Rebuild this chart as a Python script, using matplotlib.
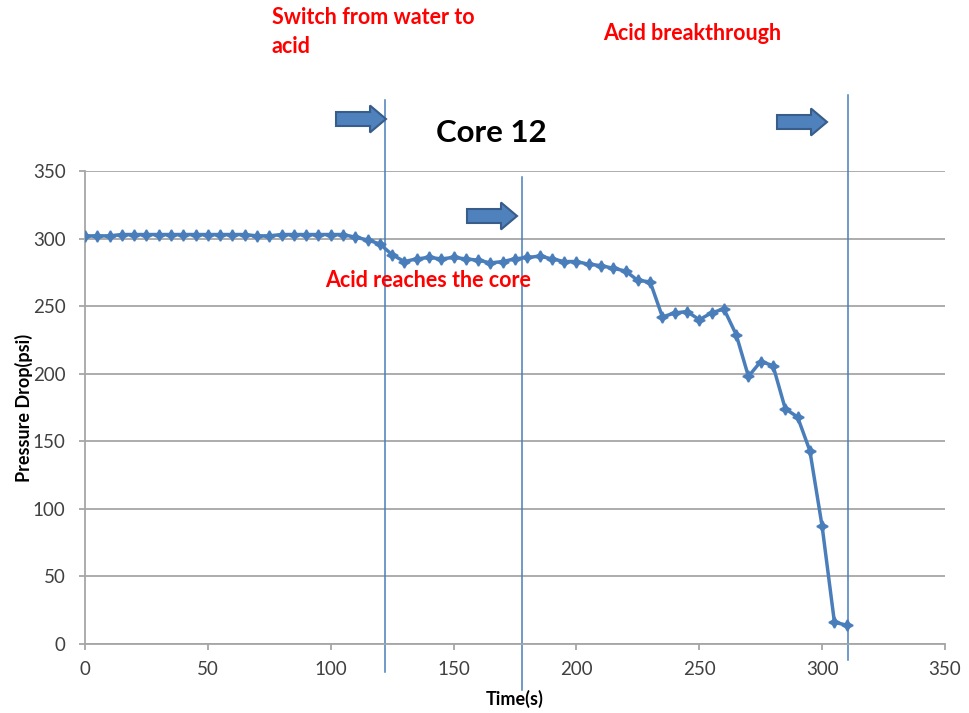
import numpy as np
import matplotlib.pyplot as plt
from matplotlib.patches import Polygon

# pressure drop across core 12, one reading every 5 s
time_s = list(range(0, 315, 5))
pressure_psi = [302, 302, 302, 303, 303, 303, 303, 303, 303, 303,
                303, 303, 303, 303, 302, 302, 303, 303, 303, 303,
                303, 303, 301, 299, 296, 288, 283, 285, 286, 285,
                286, 285, 284, 282, 283, 285, 286, 287, 285, 283,
                283, 281, 280, 278, 276, 269, 268, 242, 245, 246,
                240, 245, 248, 229, 198, 209, 206, 174, 168, 143,
                87, 16, 14]

# event markers (time in s) and the vertical extent of each line
event_times = [122, 178, 310.5]
event_spans = [(-20.7, 402.5), (-34, 345.6), (-11.8, 406)]

x_ticks = [0, 50, 100, 150, 200, 250, 300, 350]
y_ticks = [0, 50, 100, 150, 200, 250, 300, 350]

W, H = 969, 713
fig = plt.figure(figsize=(W / 100, H / 100), dpi=100)
ax = fig.add_axes([85 / W, 1 - 644 / H, 860 / W, 473 / H])

font = 'Lato'
blue = '#4a7ebb'

ax.set_xlim(0, 350)
ax.set_ylim(0, 350)
ax.set_xticks(x_ticks)
ax.set_yticks(y_ticks)
ax.grid(axis='y', color='#a6a6a6', linewidth=1.3)
ax.set_axisbelow(True)
for s in ['top', 'right']:
    ax.spines[s].set_visible(False)
for s in ['left', 'bottom']:
    ax.spines[s].set_color('#a6a6a6')
    ax.spines[s].set_linewidth(1.3)
ax.tick_params(colors='#a6a6a6', length=4, width=1.3, labelcolor='#404040',
               labelsize=13.5)
ax.tick_params(axis='x', pad=8)
ax.tick_params(axis='y', pad=10)
for lab in ax.get_xticklabels() + ax.get_yticklabels():
    lab.set_fontfamily(font)

ax.plot(time_s, pressure_psi, color=blue, linewidth=2.5,
        marker=(4, 1, 0), markersize=8, markeredgewidth=1.2, zorder=3)

for t, (y0, y1) in zip(event_times, event_spans):
    ax.plot([t, t], [y0, y1], color=blue, linewidth=1.1, clip_on=False, zorder=2)

ax.set_xlabel('Time(s)', fontfamily=font, fontweight='bold', fontsize=13,
              labelpad=9)
ax.set_ylabel('Pressure Drop(psi)', fontfamily=font, fontweight='bold',
              fontsize=13, labelpad=0)


def block_arrow(x0, yc, length=50, body=14, head=27, head_len=16):
    # arrow drawn in figure pixels (y measured from the top)
    pts = [(x0, yc - body / 2), (x0 + length - head_len, yc - body / 2),
           (x0 + length - head_len, yc - head / 2), (x0 + length, yc),
           (x0 + length - head_len, yc + head / 2),
           (x0 + length - head_len, yc + body / 2), (x0, yc + body / 2)]
    pts = [(px / W, 1 - py / H) for px, py in pts]
    fig.patches.append(Polygon(pts, closed=True, transform=fig.transFigure,
                               facecolor='#4f81bd', edgecolor='#385d8a',
                               linewidth=1.5))


block_arrow(336, 119)
block_arrow(467, 216)
block_arrow(777, 122)

red = '#ff0000'
fig.text(272 / W, 1 - 7 / H, 'Switch from water to\nacid', color=red,
         fontfamily=font, fontweight='bold', fontsize=15.5, va='top',
         linespacing=1.45)
fig.text(603 / W, 1 - 23 / H, 'Acid breakthrough', color=red,
         fontfamily=font, fontweight='bold', fontsize=15.5, va='top')
fig.text(325 / W, 1 - 270 / H, 'Acid reaches the core', color=red,
         fontfamily=font, fontweight='bold', fontsize=15.5, va='top')
fig.text(491 / W, 1 - 133 / H, 'Core 12', color='black', fontfamily=font,
         fontweight='bold', fontsize=22.5, ha='center', va='center')

fig.savefig('out.png', dpi=100)
